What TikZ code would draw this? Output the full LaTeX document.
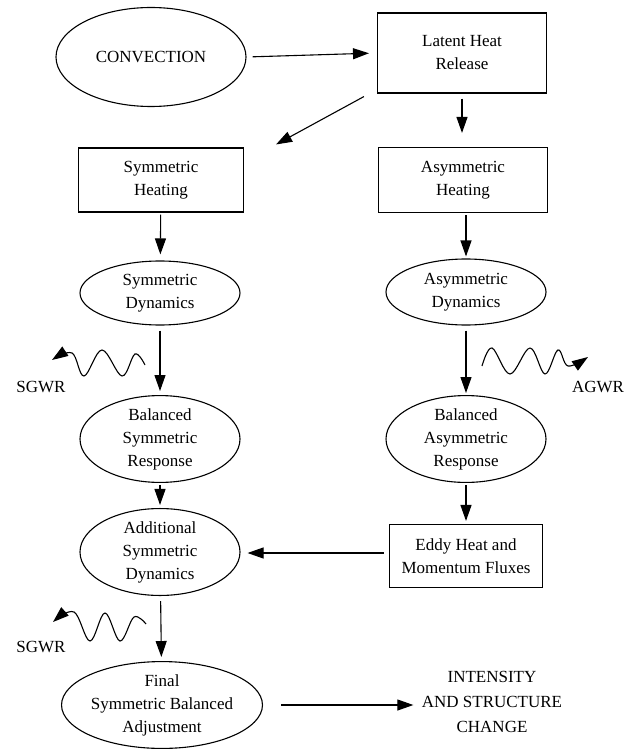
\documentclass[tikz,border=0pt]{standalone}
\usepackage{fontspec}
\setmainfont{Liberation Serif}
\usetikzlibrary{shapes.geometric,arrows.meta,calc}

\tikzset{
  box/.style={draw, line width=1.1pt, minimum width=165pt, minimum height=64pt, align=center, inner sep=0pt},
  oval/.style={draw, ellipse, line width=1.1pt, minimum width=160pt, minimum height=66pt, align=center, inner sep=0pt},
  arr/.style={line width=1.1pt, -{Triangle[length=16pt,width=11pt]}},
  wave/.style={line width=1.1pt, -{Triangle[length=16pt,width=11pt]}}
}

\begin{document}
\begin{tikzpicture}[x=1pt, y=-1pt, font=\fontsize{17}{23}\selectfont]
    \useasboundingbox (0,0) rectangle (629,751);
    % Top row
    \node[oval, minimum width=190pt, minimum height=99pt] (conv) at (151,57) {CONVECTION};
    \node[box, minimum width=169pt, minimum height=80pt] (latent) at (462,53) {Latent Heat\\Release};
    % Heating
    \node[box] (symheat) at (161,180) {Symmetric\\Heating};
    \node[box, minimum width=169pt, minimum height=65pt] (asymheat) at (463,180) {Asymmetric\\Heating};
    % Dynamics
    \node[oval, minimum height=64pt] (symdyn) at (160,293) {Symmetric\\Dynamics};
    \node[oval, minimum height=66pt] (asymdyn) at (466,292) {Asymmetric\\Dynamics};
    % Balanced response
    \node[oval, minimum height=74pt] (balsym) at (160,439) {Balanced\\Symmetric\\Response};
    \node[oval, minimum height=78pt] (balasym) at (466,439) {Balanced\\Asymmetric\\Response};
    % Additional and eddy
    \node[oval, minimum height=78pt] (addsym) at (160,552) {Additional\\Symmetric\\Dynamics};
    \node[box, minimum width=153pt, minimum height=63pt] (eddy) at (466,556) {Eddy Heat and\\Momentum Fluxes};
    % Final
    \node[oval, minimum width=162pt, minimum height=86pt] (final) at (162,705) {Final\\Symmetric Balanced\\Adjustment};
    \node[align=center, font=\fontsize{17}{25}\selectfont] (change) at (492,702) {INTENSITY\\AND STRUCTURE\\CHANGE};
    % Gravity wave labels
    \node (sgwr1) at (41,387) {SGWR};
    \node (agwr) at (598,387) {AGWR};
    \node (sgwr2) at (41,647) {SGWR};

    % Arrows
    \draw[arr, shorten <=6pt, shorten >=8pt] (conv.east) -- (latent.west);
    \draw[arr] ($(latent.south west)+(-13,3)$) -- ($(symheat.north east)+(32,-3)$);
    \draw[arr, shorten <=5pt, shorten >=14pt] (latent.south) -- (latent.south |- asymheat.north);
    \draw[arr, shorten <=2pt, shorten >=6pt] (symheat) -- (symdyn);
    \draw[arr, shorten <=2pt, shorten >=2pt] (asymheat.south -| asymdyn) -- (asymdyn);
    \draw[arr, shorten <=5pt, shorten >=4pt] (symdyn) -- (balsym);
    \draw[arr, shorten <=5pt, shorten >=2pt] (asymdyn) -- (balasym);
    \draw[arr, shorten <=2pt, shorten >=3pt] (balsym) -- (addsym);
    \draw[arr, shorten <=2pt, shorten >=3pt] (balasym) -- (eddy);
    \draw[arr, shorten <=5pt, shorten >=7pt] ($(eddy.west)+(0,-3)$) -- ($(eddy.west -| addsym.east)+(0,-3)$);
    \draw[arr, shorten <=5pt, shorten >=4pt] (addsym) -- (final);
    \draw[arr, shorten <=18pt, shorten >=5pt] (final.east) -- (final.east -| change.west);

    % Gravity waves
    \draw[wave] plot[smooth, tension=0.6] coordinates {(145,365) (135,354) (122,376) (102,350) (84,376) (72,353) (52,360)};
    \draw[wave] plot[smooth, tension=0.6] coordinates {(482,366) (492,348) (510,374) (530,348) (545,374) (558,350) (568,366) (588,357)};
    \draw[wave] plot[smooth, tension=0.6] coordinates {(146,624) (134,617) (120,641) (105,613) (90,641) (74,612) (53,622)};
\end{tikzpicture}
\end{document}
